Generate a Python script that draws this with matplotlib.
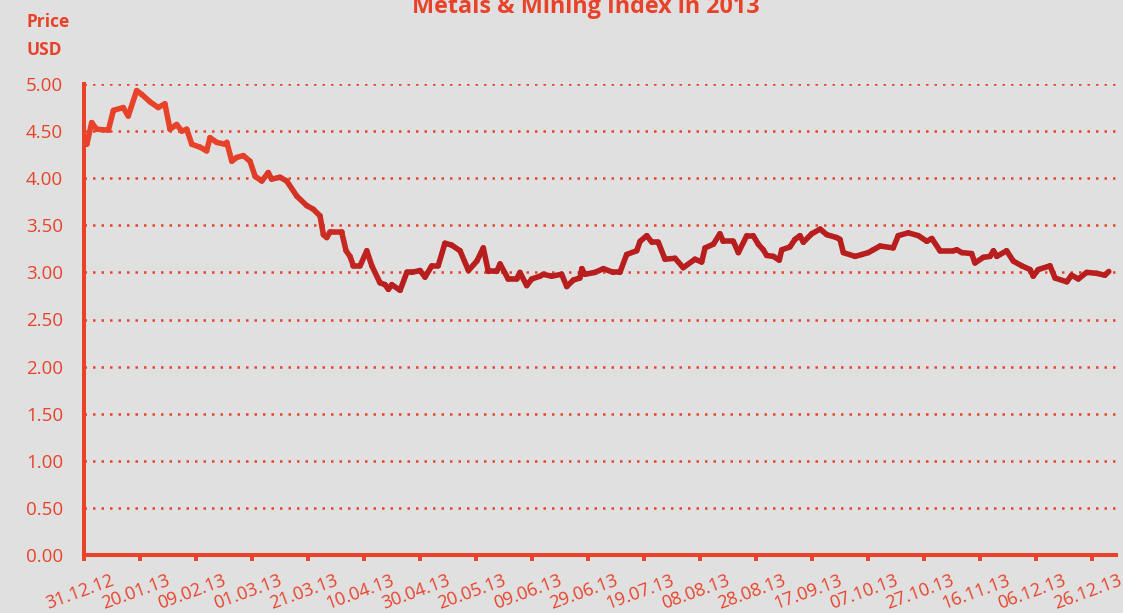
import numpy as np
import matplotlib
matplotlib.use('Agg')
import matplotlib.pyplot as plt
import matplotlib.transforms as mtransforms
from matplotlib.collections import LineCollection
from matplotlib.colors import to_rgb

plt.rcParams['font.family'] = ['Open Sans', 'DejaVu Sans']

ORANGE = '#e8432a'
DARK = '#b91e1e'
BG = '#e0e0e0'

# days since 31.12.12 and index price in USD
day = [0, 1.0, 2.75, 4.5, 8.7, 10.5, 14.0, 15.8, 18.8, 20.6, 23.6, 26.5, 28.9,
       30.7, 33.1, 34.9, 36.7, 38.5, 41.4, 43.8, 45.0, 47.4, 50.4, 51.0, 52.8,
       54.5, 56.9, 59.3, 61.1, 63.5, 65.8, 67.0, 70.0, 72.4, 76.0, 79.5, 81.9,
       84.3, 85.5, 86.7, 87.9, 92.0, 93.6, 95.0, 96.2, 98.6, 101.0, 102.8,
       105.7, 107.5, 108.7, 109.9, 112.9, 115.3, 117.0, 120.0, 121.8, 124.2,
       126.5, 128.9, 131.3, 134.3, 137.3, 140.3, 142.6, 144.4, 147.4, 148.6,
       151.5, 154.5, 155.7, 158.1, 159.9, 162.9, 164.0, 167.0, 170.6, 172.4,
       174.8, 177.1, 177.8, 178.9, 182.5, 185.5, 189.0, 191.4, 193.8, 197.4,
       198.6, 201.0, 202.8, 205.1, 207.5, 211.1, 214.0, 218.2, 220.6, 221.8,
       224.8, 227.1, 228.3, 231.9, 233.7, 236.7, 239.0, 240.8, 242.6, 243.8,
       246.2, 248.3, 249.2, 252.1, 253.9, 255.7, 256.9, 259.9, 262.9, 265.3,
       268.8, 270.0, 271.2, 275.4, 277.8, 280.1, 281.9, 284.3, 289.0, 290.8,
       294.4, 298.0, 301.0, 302.8, 305.7, 310.5, 311.7, 313.5, 317.0, 318.2,
       321.2, 323.6, 324.8, 326.0, 329.5, 331.9, 334.9, 337.9, 339.0, 340.8,
       345.0, 346.8, 351.0, 352.7, 355.1, 358.1, 361.7, 364.6, 366.0]
price = [4.38, 4.36, 4.59, 4.52, 4.51, 4.72, 4.75, 4.66, 4.93, 4.89, 4.81, 4.75, 4.79,
         4.52, 4.57, 4.50, 4.52, 4.36, 4.33, 4.29, 4.43, 4.38, 4.36, 4.38, 4.18,
         4.22, 4.24, 4.18, 4.02, 3.97, 4.06, 3.99, 4.01, 3.97, 3.81, 3.71, 3.67,
         3.60, 3.40, 3.37, 3.43, 3.43, 3.23, 3.17, 3.07, 3.07, 3.23, 3.07,
         2.89, 2.87, 2.82, 2.87, 2.81, 3.00, 3.00, 3.02, 2.95, 3.07,
         3.07, 3.31, 3.29, 3.23, 3.02, 3.12, 3.26, 3.01, 3.01, 3.09,
         2.93, 2.93, 3.00, 2.86, 2.93, 2.96, 2.98, 2.96, 2.98, 2.85,
         2.92, 2.94, 3.04, 2.98, 3.00, 3.04, 3.00, 3.00, 3.19, 3.23,
         3.33, 3.39, 3.32, 3.32, 3.14, 3.15, 3.05, 3.14, 3.11, 3.26,
         3.30, 3.41, 3.33, 3.33, 3.21, 3.39, 3.39, 3.30, 3.24, 3.18,
         3.17, 3.13, 3.24, 3.27, 3.35, 3.39, 3.32, 3.41, 3.46, 3.40,
         3.37, 3.35, 3.21, 3.17, 3.19, 3.21, 3.24, 3.28, 3.26, 3.39,
         3.42, 3.39, 3.33, 3.36, 3.23, 3.23, 3.24, 3.21, 3.20, 3.10,
         3.16, 3.17, 3.23, 3.17, 3.23, 3.12, 3.07, 3.03, 2.96, 3.03,
         3.07, 2.94, 2.90, 2.97, 2.93, 3.00, 2.99, 2.97, 3.01]

tick_days = list(range(0, 361, 20))
tick_labels = ['31.12.12', '20.01.13', '09.02.13', '01.03.13', '21.03.13',
               '10.04.13', '30.04.13', '20.05.13', '09.06.13', '29.06.13',
               '19.07.13', '08.08.13', '28.08.13', '17.09.13', '07.10.13',
               '27.10.13', '16.11.13', '06.12.13', '26.12.13']
y_ticks = [0, 0.5, 1, 1.5, 2, 2.5, 3, 3.5, 4, 4.5, 5]

fig = plt.figure(figsize=(11.23, 6.13), dpi=100, facecolor=BG)
ax = fig.add_axes([84/1123., 58/613., 1032/1123., 471/613.])
ax.set_facecolor(BG)

# line fades from orange-red to dark red over the first months
x = np.asarray(day)
y = np.asarray(price)
pts = np.column_stack([x, y]).reshape(-1, 1, 2)
segs = np.concatenate([pts[:-1], pts[1:]], axis=1)
c0 = np.array(to_rgb(ORANGE))
c1 = np.array(to_rgb(DARK))
mid = (x[:-1] + x[1:]) / 2.
f = np.clip((mid - 50) / 60., 0, 1)[:, None]
cols = c0 * (1 - f) + c1 * f
lc = LineCollection(segs, colors=cols, linewidths=4.0, capstyle='round',
                    joinstyle='round', zorder=3)
ax.add_collection(lc)

ax.set_xlim(0, 1032/2.8)
ax.set_ylim(0, 5)

for v in y_ticks[1:]:
    ax.axhline(v, color=ORANGE, lw=1.8, ls=(0, (1, 2.4)), zorder=1)

ax.set_yticks(y_ticks)
ax.set_yticklabels(['%.2f' % v for v in y_ticks])
ax.tick_params(axis='y', length=0, pad=15, labelsize=13.5, labelcolor=ORANGE)

ax.set_xticks(tick_days)
ax.set_xticklabels(tick_labels, rotation=20, ha='center')
ax.tick_params(axis='x', direction='out', length=4, width=2.8, color=ORANGE,
               pad=8, labelsize=13, labelcolor=ORANGE)
shift = mtransforms.ScaledTranslation(-4/100., 0, fig.dpi_scale_trans)
for lab in ax.get_xticklabels():
    lab.set_transform(lab.get_transform() + shift)

for s in ['top', 'right']:
    ax.spines[s].set_visible(False)
for s in ['left', 'bottom']:
    ax.spines[s].set_color(ORANGE)
    ax.spines[s].set_linewidth(2.9)
    ax.spines[s].set_zorder(4)

fig.text(0.024, 1 - 27/613., 'Price', color=ORANGE, fontsize=12.5,
         fontweight='bold', va='baseline')
fig.text(0.024, 1 - 55/613., 'USD', color=ORANGE, fontsize=12.5,
         fontweight='bold', va='baseline')
fig.text(586/1123., 1 - 13/613., 'Metals & Mining Index in 2013', color=ORANGE,
         fontsize=16.8, fontweight='bold', ha='center', va='baseline')

plt.savefig('out.png', dpi=100, facecolor=BG)
